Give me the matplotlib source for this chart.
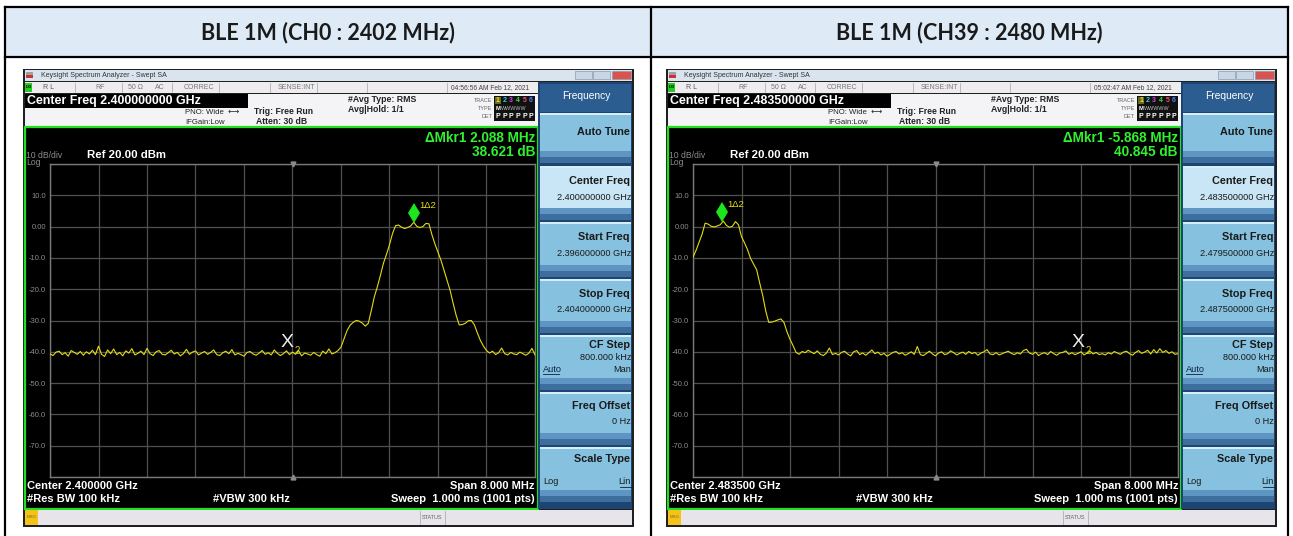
import numpy as np
import matplotlib
matplotlib.use("Agg")
import matplotlib.pyplot as plt
from matplotlib.patches import Rectangle

plt.rcParams['font.family'] = ['Liberation Sans', 'DejaVu Sans']

W, H = 1293, 536

# ---- data ----
titles = ["BLE 1M (CH0 : 2402 MHz)", "BLE 1M (CH39 : 2480 MHz)"]
center_freq = ["2.400000000", "2.483500000"]
start_freq = ["2.396000000", "2.479500000"]
stop_freq = ["2.404000000", "2.487500000"]
center_short = ["2.400000", "2.483500"]
timestamps = ["04:56:56 AM Feb 12, 2021", "05:02:47 AM Feb 12, 2021"]
mkr_delta_mhz = ["2.088", "-5.868"]
mkr_delta_db = ["38.621", "40.845"]
mkr1_mhz = [2.0, -3.52]          # marker 1 position, MHz from center
mkr2_mhz = [-0.088, 2.348]       # marker 2 (reference) position
span_mhz = 8.0
ref_dbm = 20.0
ytick_labels = ["10.0", "0.00", "-10.0", "-20.0", "-30.0", "-40.0", "-50.0", "-60.0", "-70.0"]

# trace levels (dBm), 161 sweep points over the 8 MHz span
levels_ch0 = [
    -40.6, -41.2, -40.1, -39.8, -40.9, -40.3, -41.4, -39.6, -40.2, -40.8,
    -39.9, -41.1, -40.0, -40.7, -39.5, -40.9, -38.2, -40.8, -41.5, -39.4,
    -40.6, -39.1, -40.9, -40.2, -41.3, -39.7, -40.4, -39.0, -41.0, -40.5,
    -39.8, -40.9, -38.9, -40.6, -41.2, -40.0, -39.6, -40.8, -41.0, -40.3,
    -39.5, -40.7, -40.2, -41.3, -40.6, -39.2, -40.8, -40.1, -39.7, -41.0,
    -40.4, -39.9, -40.8, -40.2, -39.4, -40.9, -41.2, -40.3, -39.8, -40.6,
    -39.3, -41.0, -40.5, -40.9, -41.4, -40.2, -39.9, -40.7, -41.1, -40.4,
    -39.6, -40.8, -40.3, -41.0, -39.4, -40.5, -41.2, -40.6, -39.7, -40.9,
    -40.1, -40.8, -39.6, -41.3, -40.4, -40.7, -41.1, -40.2, -40.9, -41.4,
    -39.8, -40.6, -39.1, -40.7, -40.3, -39.6,
    -38.5, -35.8, -33.2, -31.5, -30.6, -30.0, -30.2, -30.8, -31.8, -30.9,
    -26.8, -22.4, -19.2, -15.6, -11.7, -8.9, -5.8, -2.2, 0.3, 0.5,
    -0.2, -0.6, -0.3, 0.2, 1.4, 0.1, -0.3, 0.0, 1.0, 0.9,
    -2.6, -5.6, -8.2, -10.8, -14.0, -17.2, -20.4, -24.5, -28.4, -31.4,
    -31.3, -30.9, -30.1, -30.0, -31.4, -34.0, -36.4, -38.2, -39.6,
    -40.4, -39.8, -40.9, -40.3, -38.8, -40.6, -41.0, -40.2, -40.7, -40.9,
    -40.1, -40.6, -41.1, -40.4, -38.9, -41.0,
]
levels_ch39 = [
    -9.8, -7.6, -5.0, -2.4, 1.1, 0.8, 0.1, -0.1, 0.2, 0.6,
    1.8, 0.4, -0.2, 0.1, 1.6, 0.6, -3.2, -5.2, -7.4, -10.2,
    -12.0, -13.8, -18.0, -22.0, -27.0, -30.6, -30.5, -30.2, -29.8, -29.5,
    -30.6, -33.6, -36.0, -38.0, -40.2, -40.8,
    -39.9, -40.3, -39.5, -40.1, -40.6, -39.7, -40.8, -41.2, -40.4, -38.8,
    -40.9, -40.5, -41.0, -40.2, -39.8, -40.7, -41.3, -40.0, -39.6, -40.9,
    -40.4, -41.1, -40.3, -39.4, -40.6, -40.1, -41.0, -40.5, -41.4, -40.8,
    -40.2, -39.9, -40.7, -40.3, -41.1, -40.6, -40.0, -40.8, -38.3, -40.9,
    -41.2, -40.5, -39.8, -40.7, -41.3, -40.4, -40.0, -40.9, -40.6, -39.7,
    -40.3, -41.0, -40.5, -40.1, -40.8, -39.9, -40.6, -40.2, -41.1, -40.4,
    -40.0, -39.3, -40.7, -40.9, -40.3, -41.0, -40.6, -40.2, -39.8, -40.5,
    -40.9, -40.3, -40.7, -39.6, -39.2, -40.4, -40.8, -40.1, -41.2, -40.6,
    -40.3, -40.9, -39.9, -40.6, -41.1, -40.4, -40.2, -39.7, -40.8, -40.3,
    -40.9, -40.5, -40.0, -41.0, -40.4, -39.8, -40.7, -40.2, -40.9, -40.6,
    -41.0, -40.3, -40.7, -39.9, -40.4, -40.8, -40.1, -39.8, -40.6, -41.1,
    -40.2, -39.6, -40.5, -40.1, -39.5, -40.7, -39.3, -40.4, -39.0, -40.2,
    -39.6, -40.5, -40.0, -40.8, -40.6,
]
traces = [levels_ch0, levels_ch39]
panel_x = [23, 666]   # left edge of each screenshot
panel_y = 69

fig = plt.figure(figsize=(W / 100, H / 100), dpi=100)
bg = fig.add_axes([0, 0, 1, 1])
bg.set_xlim(0, W)
bg.set_ylim(H, 0)
bg.axis('off')


def rect(x0, y0, x1, y1, fc, ec='none', lw=0, z=1):
    bg.add_patch(Rectangle((x0, y0), x1 - x0, y1 - y0, facecolor=fc,
                           edgecolor=ec, linewidth=lw, zorder=z))


def txt(x, y, s, size, color='#1a1a1a', ha='left', weight='normal', z=5, **kw):
    bg.text(x, y, s, fontsize=size, color=color, ha=ha, va='center',
            fontweight=weight, zorder=z, **kw)


# ---- table (header row + borders) ----
rect(5, 7, 1288, 57, '#DEEAF6', z=0)
for yy in (7, 57):
    bg.plot([5, 1288], [yy, yy], color='black', lw=1.6, zorder=2)
for xx in (5, 651, 1288):
    bg.plot([xx, xx], [7, H], color='black', lw=1.6, zorder=2)
for k, t in enumerate(titles):
    cx = 328 if k == 0 else 969
    bg.text(cx, 33, t, fontsize=15.5, fontweight='bold', ha='center', va='center',
            color='#1a1a1a', family=['Lato', 'DejaVu Sans'], zorder=3)


def draw_panel(k):
    ox, oy = panel_x[k], panel_y

    def R(x0, y0, x1, y1, fc, **kw):
        rect(ox + x0, oy + y0, ox + x1, oy + y1, fc, **kw)

    def T(x, y, s, size, **kw):
        txt(ox + x, oy + y, s, size, **kw)

    # window frame + title bar
    R(0, 0, 611, 458, '#202020', z=1)
    R(2, 1, 609, 12, '#D9E4EF', z=2)
    R(3, 3, 10, 6, '#A0A0A0', z=3)
    R(3, 6, 10, 9, '#D03030', z=3)
    T(18, 6.5, "Keysight Spectrum Analyzer - Swept SA", 5.0, color='#333333')
    for bx0, bx1, c in ((552, 569, '#C9D6E4'), (570, 587, '#C9D6E4'), (589, 608, '#D9534F')):
        R(bx0, 2, bx1, 10, c, ec='#8A9AB0', lw=0.5, z=3)

    # status row
    R(2, 13, 515, 24, '#EEECEF', z=2)
    R(2, 14, 9, 23, '#22CC22', z=3)
    T(3, 18.5, "LXI", 2.8, color='black', weight='bold')
    for dx in (52, 99, 149, 196, 247, 294, 344, 424):
        bg.plot([ox + dx, ox + dx], [oy + 14, oy + 23], color='#B0B0B0', lw=0.6, zorder=3)
    T(20, 18.5, "R L", 5.0, color='#555555')
    T(77, 18.5, "RF", 5.0, color='#777777', ha='center')
    T(105, 18.5, "50 Ω", 5.0, color='#777777')
    T(132, 18.5, "AC", 5.0, color='#777777')
    T(161, 18.5, "CORREC", 5.0, color='#777777')
    T(292, 18.5, "SENSE:INT", 5.0, color='#777777', ha='right')
    T(467, 18.5, timestamps[k], 4.8, color='#444444', ha='center')

    # info area
    R(2, 25, 515, 58, '#F4F3F5', z=2)
    R(2, 25, 225, 39, 'black', z=3)
    T(4, 32, "Center Freq " + center_freq[k] + " GHz", 8.9, color='white', weight='bold')
    T(162, 44, "PNO: Wide  ⟷", 5.6, color='#222222')
    T(162, 53, "IFGain:Low", 5.6, color='#222222')
    T(231, 43, "Trig: Free Run", 6.2, color='#222222', weight='bold')
    T(233, 52, "Atten: 30 dB", 6.2, color='#222222', weight='bold')
    T(325, 31, "#Avg Type: RMS", 6.3, color='#222222', weight='bold')
    T(325, 41, "Avg|Hold: 1/1", 6.3, color='#222222', weight='bold')
    for yy, s in ((31, "TRACE"), (40, "TYPE"), (48, "DET")):
        T(469, yy, s, 4.0, color='#666666', ha='right')
    R(471, 27, 512, 52, '#111111', z=3)
    R(472, 28, 478, 35, '#6B6B20', z=4)
    digit_colors = ['#F0E030', '#30D0E0', '#E040E0', '#40E040', '#F05070', '#5080FF']
    for j, c in enumerate(digit_colors):
        T(475 + j * 6.6, 31.5, str(j + 1), 5.0, color=c, weight='bold', ha='center', z=6)
        T(475 + j * 6.6, 48, "P", 5.0, color='white', weight='bold', ha='center', z=6)
    T(475, 40, "M", 4.2, color='white', weight='bold', ha='center', z=6)
    T(478, 40, "WWWWW", 3.9, color='#BBBBBB', z=6)

    # graph area
    R(2, 58, 515, 440, 'black', ec='#20E020', lw=1.6, z=2)
    T(512, 69, "ΔMkr1 " + mkr_delta_mhz[k] + " MHz", 9.8, color='#30F030', weight='bold', ha='right')
    T(512, 83, mkr_delta_db[k] + " dB", 9.8, color='#30F030', weight='bold', ha='right')
    T(3, 86, "10 dB/div", 6.2, color='#8C8C8C')
    T(3, 93.5, "Log", 6.2, color='#8C8C8C')
    T(64, 86, "Ref 20.00 dBm", 8.2, color='white', weight='bold')
    T(4, 417, "Center " + center_short[k] + " GHz", 8.0, color='white', weight='bold')
    T(4, 430, "#Res BW 100 kHz", 8.0, color='white', weight='bold')
    T(190, 430, "#VBW 300 kHz", 8.0, color='white', weight='bold')
    T(512, 417, "Span 8.000 MHz", 8.0, color='white', weight='bold', ha='right')
    T(512, 430, "Sweep  1.000 ms (1001 pts)", 8.0, color='white', weight='bold', ha='right')

    # message bar
    R(2, 441, 609, 456, '#E7E5E9', z=2)
    R(2, 441, 15, 456, '#F3C21B', z=3)
    T(3.5, 448.5, "MSG", 3.2, color='#8A6A00')
    bg.plot([ox + 397, ox + 397], [oy + 442, oy + 455], color='#B0B0B0', lw=0.6, zorder=3)
    bg.plot([ox + 422, ox + 422], [oy + 442, oy + 455], color='#B0B0B0', lw=0.6, zorder=3)
    T(409.5, 448.5, "STATUS", 4.0, color='#666666', ha='center')

    # softkey panel
    R(515, 13, 609, 440, '#1C4574', z=2)
    R(517, 15, 608, 43, '#2B5D91', z=3)
    T(563, 27, "Frequency", 7.4, color='white', ha='center')
    keys = [(44, 94), (97, 151), (153, 208), (210, 264), (266, 321), (323, 376), (378, 433)]
    for j, (y0, y1) in enumerate(keys):
        face = '#C8E6F5' if j == 1 else '#86C2E0'
        R(517, y0, 608, y1, face, z=3)
        R(517, y0, 608, y0 + 2, '#D6EEF8', z=4)
        R(517, y1 - 12, 608, y1 - 6, '#5E95C2', z=4)
        R(517, y1 - 6, 608, y1, '#3D6E9E', z=4)
    T(607, 63, "Auto Tune", 7.8, weight='bold', ha='right')
    T(607, 112, "Center Freq", 7.8, weight='bold', ha='right')
    T(608, 128, center_freq[k] + " GHz", 6.6, ha='right')
    T(607, 168, "Start Freq", 7.8, weight='bold', ha='right')
    T(608, 184, start_freq[k] + " GHz", 6.6, ha='right')
    T(607, 225, "Stop Freq", 7.8, weight='bold', ha='right')
    T(608, 240, stop_freq[k] + " GHz", 6.6, ha='right')
    T(607, 276, "CF Step", 7.8, weight='bold', ha='right')
    T(608, 288, "800.000 kHz", 6.6, ha='right')
    T(520, 300, "Auto", 6.6, color='#102040')
    bg.plot([ox + 520, ox + 536], [oy + 305, oy + 305], color='#102040', lw=0.6, zorder=6)
    T(608, 300, "Man", 6.6, ha='right')
    T(607, 337, "Freq Offset", 7.8, weight='bold', ha='right')
    T(608, 353, "0 Hz", 6.6, ha='right')
    T(607, 390, "Scale Type", 7.8, weight='bold', ha='right')
    T(520, 413, "Log", 6.6)
    T(608, 413, "Lin", 6.6, ha='right')
    bg.plot([ox + 597, ox + 608], [oy + 418, oy + 418], color='#102040', lw=0.6, zorder=6)

    # spectrum trace on its own axes over the graticule
    gx0, gx1, gy0, gy1 = ox + 27, ox + 512, oy + 95, oy + 408
    ax = fig.add_axes([gx0 / W, 1 - gy1 / H, (gx1 - gx0) / W, (gy1 - gy0) / H])
    ax.set_facecolor('none')
    levels = np.array(traces[k])
    freq = np.linspace(-span_mhz / 2, span_mhz / 2, len(levels))
    ax.set_xlim(-span_mhz / 2, span_mhz / 2)
    ax.set_ylim(ref_dbm - 100, ref_dbm)
    ax.set_xticks(np.arange(-4, 4.01, 0.8))
    ax.set_yticks(np.arange(-80, 21, 10))
    ax.set_xticklabels([])
    ax.set_yticklabels([""] + ytick_labels[::-1] + [""])
    ax.tick_params(length=0, labelsize=5.5, labelcolor='#8C8C8C', pad=3)
    ax.grid(True, color='#505050', lw=0.9)
    for sp in ax.spines.values():
        sp.set_color('#7A7A7A')
        sp.set_linewidth(1.0)
    ax.plot([0], [ref_dbm], marker='v', ms=3.5, color='#8A8A8A', clip_on=False, zorder=4)
    ax.plot([0], [ref_dbm - 100], marker='^', ms=3.5, color='#8A8A8A', clip_on=False, zorder=4)
    ax.plot(freq, levels, color='#E2DC12', lw=0.8, zorder=3)

    i1 = int(np.argmin(np.abs(freq - mkr1_mhz[k])))
    ax.plot(mkr1_mhz[k], levels[i1] + 3.0, marker='d', ms=10, color='#1EE61E',
            markeredgewidth=0, zorder=5)
    ax.text(mkr1_mhz[k] + 0.09, levels[i1] + 5.4, "1Δ2", fontsize=6.8,
            color='#E2DC12', va='center', zorder=5)
    ax.text(mkr2_mhz[k], -37.0, "X", fontsize=14, color='#EEEEEE', ha='center',
            va='center', zorder=6, family=['Liberation Sans Narrow', 'Liberation Sans'])
    ax.text(mkr2_mhz[k] + 0.12, -39.6, "2", fontsize=7, color='#E2DC12',
            ha='left', va='center', zorder=6)


for k in range(2):
    draw_panel(k)

fig.savefig("out.png", dpi=100)
